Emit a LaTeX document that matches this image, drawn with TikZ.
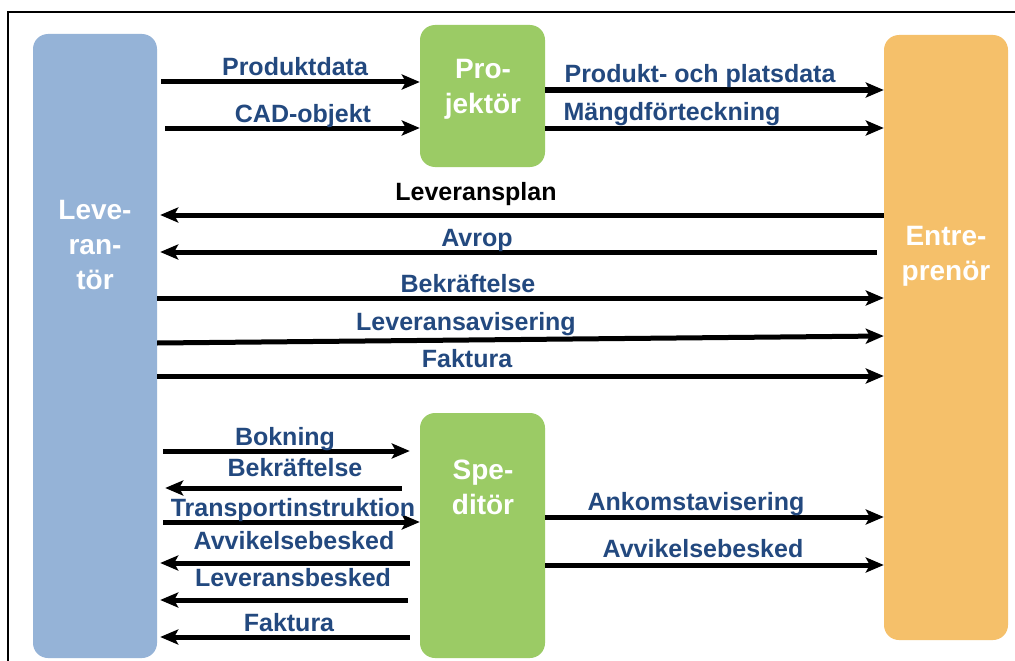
\documentclass[tikz,border=0pt]{standalone}
\usepackage{fontspec}
\setmainfont{Liberation Sans}
\usetikzlibrary{arrows.meta,calc}
\definecolor{levblue}{HTML}{95B3D7}
\definecolor{progreen}{HTML}{9BCB65}
\definecolor{entorange}{HTML}{F5C06A}
\definecolor{txtblue}{HTML}{23497F}
\begin{document}
\begin{tikzpicture}[x=1pt,y=-1pt,
 actor/.style={rounded corners=15pt, inner sep=0pt, draw=none},
 boxtxt/.style={white, font=\bfseries\fontsize{28}{35}\selectfont, align=center, anchor=north, inner sep=0pt},
 lbl/.style={txtblue, font=\bfseries\fontsize{25}{30}\selectfont, anchor=base, inner sep=0pt},
 flow/.style={line width=5pt, -{Stealth[length=18pt,width=15pt,inset=4pt]}}]
\useasboundingbox (0,0) rectangle (1015,661);
\fill[white] (0,0) rectangle (1015,661);
\draw[line width=2pt] (1015,12) -- (8,12) -- (8,661);
% boxes
\node[actor, fill=levblue, minimum width=124pt, minimum height=624pt] (L) at (95,346) {};
\node[actor, fill=progreen, minimum width=125pt, minimum height=142pt] (P) at (482.5,96) {};
\node[actor, fill=entorange, minimum width=124pt, minimum height=605pt] (E) at (946,337.5) {};
\node[actor, fill=progreen, minimum width=125pt, minimum height=245pt] (S) at (482.5,535.5) {};
\node[boxtxt] (Lt) at (95,200) {Leve-\\ran-\\tör};
\node[boxtxt] (Pt) at (483,59) {Pro-\\jektör};
\node[boxtxt] (Et) at (946,226) {Entre-\\prenör};
\node[boxtxt] (St) at (483,460) {Spe-\\ditör};
% arrows
\draw[flow] ($(L.east |- 0,82)+(4,0)$) -- (P.west |- 0,82);
\draw[flow] ($(L.east |- 0,128)+(8,0)$) -- (P.west |- 0,128);
\draw[flow] (P.east |- 0,90) -- (E.west |- 0,90);
\draw[flow] (P.east |- 0,128) -- (E.west |- 0,128);
\draw[flow] (E.west |- 0,215) -- ($(L.east |- 0,215)+(3,0)$);
\draw[flow] ($(E.west |- 0,252)+(-7,0)$) -- ($(L.east |- 0,252)+(3,0)$);
\draw[flow] (L.east |- 0,298) -- (E.west |- 0,298);
\draw[flow] (L.east |- 0,343) -- (E.west |- 0,336);
\draw[flow] (L.east |- 0,376) -- (E.west |- 0,376);
\draw[flow] ($(L.east |- 0,451)+(6,0)$) -- ($(S.west |- 0,451)+(-10,0)$);
\draw[flow] ($(S.west |- 0,488)+(-18,0)$) -- ($(L.east |- 0,488)+(8,0)$);
\draw[flow] ($(L.east |- 0,522)+(6,0)$) -- (S.west |- 0,522);
\draw[flow] ($(S.west |- 0,563)+(-10,0)$) -- ($(L.east |- 0,563)+(3,0)$);
\draw[flow] ($(S.west |- 0,600)+(-12,0)$) -- ($(L.east |- 0,600)+(3,0)$);
\draw[flow] ($(S.west |- 0,637)+(-10,0)$) -- ($(L.east |- 0,637)+(3,0)$);
\draw[flow] (S.east |- 0,517) -- (E.west |- 0,517);
\draw[flow] (S.east |- 0,565) -- (E.west |- 0,565);
% labels
\node[lbl] (l1) at (295,75) {Produktdata};
\node[lbl] (l2) at (303,122) {CAD-objekt};
\node[lbl] (l3) at (700,83) {Produkt- och platsdata};
\node[lbl] (l4) at (672,121) {Mängdförteckning};
\node[lbl, text=black] (l5) at (476,200) {Leveransplan};
\node[lbl] (l6) at (477,246) {Avrop};
\node[lbl] (l7) at (468,292) {Bekräftelse};
\node[lbl] (l8) at (466,330) {Leveransavisering};
\node[lbl] (l9) at (467,367) {Faktura};
\node[lbl] (l10) at (285,445) {Bokning};
\node[lbl] (l11) at (295,476) {Bekräftelse};
\node[lbl] (l12) at (293,516) {Transportinstruktion};
\node[lbl] (l13) at (294,549) {Avvikelsebesked};
\node[lbl] (l14) at (293,586) {Leveransbesked};
\node[lbl] (l15) at (289,631) {Faktura};
\node[lbl] (l16) at (696,510) {Ankomstavisering};
\node[lbl] (l17) at (703,557) {Avvikelsebesked};
\end{tikzpicture}
\end{document}
